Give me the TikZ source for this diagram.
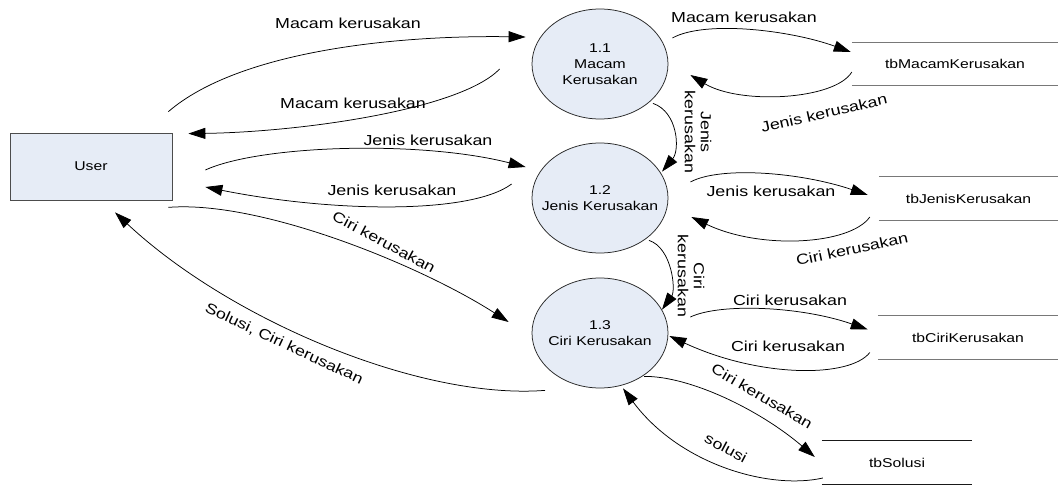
\documentclass[tikz,border=0pt]{standalone}
\usepackage{fontspec}
\setmainfont{Liberation Sans}[FakeStretch=1.23]
\usetikzlibrary{arrows.meta,shapes.geometric}
\definecolor{procfill}{RGB}{230,236,246}
\definecolor{storegray}{RGB}{120,120,120}

\begin{document}
\begin{tikzpicture}[x=1pt,y=-1pt,
  every node/.style={inner sep=0pt},
  flow/.style={draw=black, line width=0.75pt, -{Triangle[length=17pt,width=11pt]}},
  lbl/.style={font=\fontsize{14.5}{16}\selectfont, align=center},
  proc/.style={ellipse, draw=black!85, fill=procfill, line width=0.75pt,
               minimum width=136pt, minimum height=110pt},
  ptext/.style={font=\fontsize{12.8}{16}\selectfont, align=center},
  entity/.style={rectangle, draw=black!70, fill=procfill, line width=0.75pt,
                 minimum width=162pt, minimum height=67pt,
                 font=\fontsize{12.8}{16}\selectfont},
  store/.style={minimum height=43pt, font=\fontsize{12.8}{15}\selectfont},
  storeline/.style={draw=storegray, line width=1.2pt}
]
\useasboundingbox (0,0) rectangle (1058,485);

% external entity
\node[entity] (u) at (91,166.5) {User};

% processes
\node[proc] (c11) at (600,64) {};
\node[ptext] (t11) at (c11) {1.1\\Macam\\Kerusakan};
\node[proc] (c12) at (600,198) {};
\node[ptext] (t12) at (c12) {1.2\\Jenis Kerusakan};
\node[proc] (c13) at (600,333) {};
\node[ptext] (t13) at (c13) {1.3\\Ciri Kerusakan};

% data stores
\node[store, minimum width=206pt] (s1) at (955,64) {tbMacamKerusakan};
\node[store, minimum width=179pt] (s2) at (968.5,198.5) {tbJenisKerusakan};
\node[store, minimum width=180pt] (s3) at (968,337.5) {tbCiriKerusakan};
\node[store, minimum width=150pt] (s4) at (897,462.5) {tbSolusi};
\foreach \s in {s1,s2,s3} {
  \draw[storeline] (\s.north west) -- (\s.north east);
  \draw[storeline] (\s.south west) -- (\s.south east);
}
\draw[storeline, draw=black!90] (s4.north west) -- (s4.north east);
\draw[storeline, draw=black!90] (s4.south west) -- (s4.south east);

% flows between User and the processes
\draw[flow] ([shift={(-4,-21)}]u.north east) .. controls (240,50) and (400,35) .. ([shift={(-6,-27)}]c11.west);
\draw[flow] ([shift={(-32,5)}]c11.west) .. controls (460,110) and (300,132) .. ([shift={(16,1)}]u.north east);
\draw[flow] ([shift={(33,3.5)}]u.east) .. controls (260,145) and (420,140) .. ([shift={(-6,-31)}]c12.west);
\draw[flow] ([shift={(-20,-14)}]c12.west) .. controls (470,215) and (330,212) .. ([shift={(33,20.5)}]u.east);
\draw[flow] ([shift={(-4,7)}]u.south east) .. controls (260,200) and (420,265) .. ([shift={(-23,-11)}]c13.west);
\draw[flow] ([shift={(-55,2)}]c13.south) .. controls (420,400) and (230,320) .. ([shift={(24,12)}]u.south);

% flows between processes and data stores
\draw[flow] ([shift={(4,-26)}]c11.east) .. controls (705,20) and (790,30) .. ([shift={(-1,-12)}]s1.west);
\draw[flow] ([shift={(0,8)}]s1.west) .. controls (835,100) and (740,105) .. ([shift={(22,11)}]c11.east);
\draw[flow] ([shift={(53,-16)}]c11.south) .. controls (678,112) and (680,150) .. ([shift={(62,29)}]c12.north);
\draw[flow] ([shift={(22,-16)}]c12.east) .. controls (720,166) and (800,172) .. ([shift={(-11,-3.5)}]s2.west);
\draw[flow] ([shift={(-9,18.5)}]s2.west) .. controls (850,245) and (760,250) .. ([shift={(23,19)}]c12.east);
\draw[flow] ([shift={(49,-13)}]c12.south) .. controls (672,248) and (676,290) .. ([shift={(62,32)}]c13.north);
\draw[flow] ([shift={(22,-16)}]c13.east) .. controls (720,303) and (800,306) .. ([shift={(-10,-8)}]s3.west);
\draw[flow] ([shift={(-8,15)}]s3.west) .. controls (850,378) and (760,378) .. ([shift={(1,3)}]c13.east);
\draw[flow] ([shift={(44,-12)}]c13.south) .. controls (690,376) and (760,410) .. ([shift={(-7,-5.5)}]s4.west);
\draw[flow] ([shift={(1,15.5)}]s4.west) .. controls (770,490) and (680,465) .. ([shift={(23,0)}]c13.south);

% flow labels
\node[lbl] (l1) at (348,23) {Macam kerusakan};
\node[lbl] (l2) at (353,103) {Macam kerusakan};
\node[lbl] (l3) at (428,140) {Jenis kerusakan};
\node[lbl] (l4) at (392,190) {Jenis kerusakan};
\node[lbl, rotate=-28] (l5) at (384,242) {Ciri kerusakan};
\node[lbl, rotate=-25] (l6) at (284,344) {Solusi, Ciri kerusakan};
\node[lbl] (l7) at (744,17) {Macam kerusakan};
\node[lbl, rotate=13] (l8) at (824,113) {Jenis kerusakan};
\node[lbl, rotate=-90] (l9) at (698,132) {Jenis\\kerusakan};
\node[lbl] (l10) at (771,191) {Jenis kerusakan};
\node[lbl, rotate=12] (l11) at (852,249) {Ciri kerusakan};
\node[lbl, rotate=-90] (l12) at (691,276) {Ciri\\kerusakan};
\node[lbl] (l13) at (790,300) {Ciri kerusakan};
\node[lbl] (l14) at (788,346) {Ciri kerusakan};
\node[lbl, rotate=-30] (l15) at (762,396) {Ciri kerusakan};
\node[lbl, rotate=-28] (l16) at (726,448) {solusi};
\end{tikzpicture}
\end{document}
